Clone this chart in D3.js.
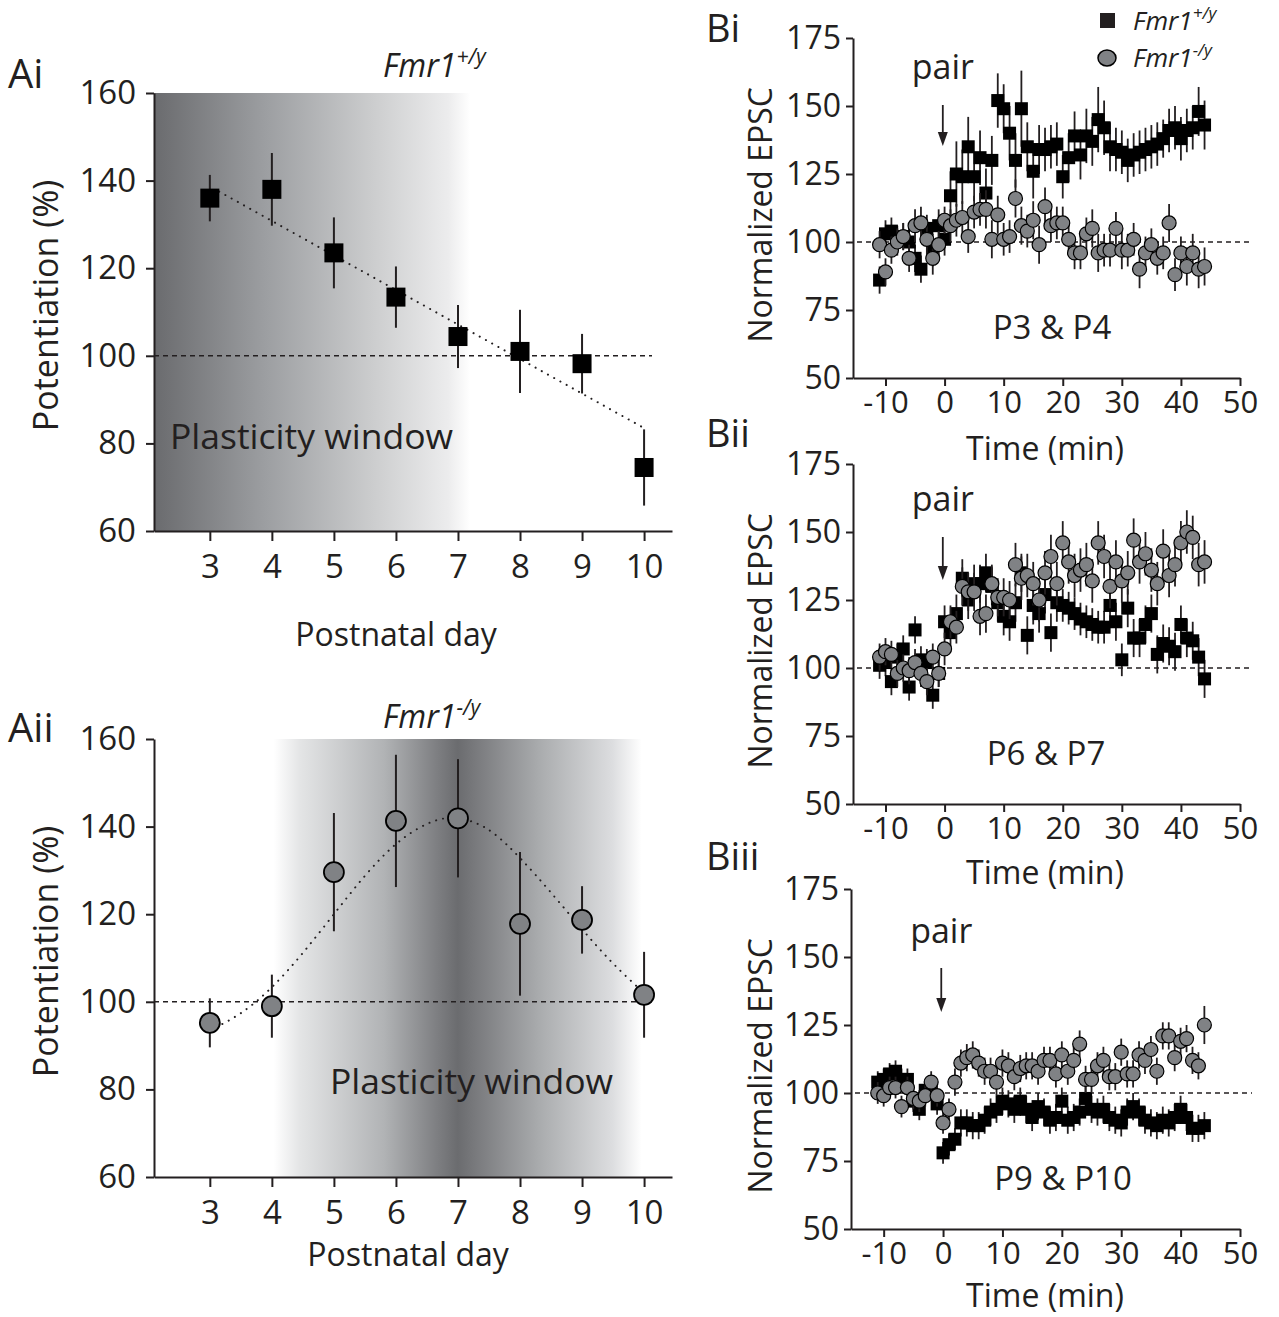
<!DOCTYPE html>
<html>
<head>
<meta charset="utf-8">
<script src="https://cdn.jsdelivr.net/npm/d3@7"></script>
<style>
  body { margin: 0; background: #fff; }
  svg text { font-family: "Open Sans", sans-serif; fill: #231f20; }
</style>
</head>
<body>
<svg id="fig" width="1279" height="1317"></svg>
<script>
// ---- data: panel A (postnatal day vs potentiation %) ----
var days = [3, 4, 5, 6, 7, 8, 9, 10];
var wtPotentiation = [136, 138, 123.5, 113.4, 104.4, 101, 98.2, 74.5];
var wtPotErr = [5.3, 8.3, 8.1, 7.0, 7.2, 9.5, 6.8, 8.7];
var wtFit = [[3.15, 137.5], [10, 83.5]];

var koPotentiation = [95.2, 99, 129.6, 141.3, 141.9, 117.8, 118.7, 101.6];
var koPotErr = [5.6, 7.2, 13.5, 15.1, 13.5, 16.4, 7.7, 9.8];
var koFit = [[3, 93.5], [3.5, 97], [4, 103], [4.5, 111], [5, 120], [5.5, 129], [6, 136.5],
             [6.5, 141], [6.9, 142.5], [7.3, 141], [7.6, 138.5], [8, 133], [8.5, 125],
             [9, 116.5], [9.5, 108.5], [10, 102]];

var potTicksY = [60, 80, 100, 120, 140, 160];

// ---- data: panel B (time course, one point per minute from -11 to 44) ----
var timeStart = -11;
var epscTicksY = [50, 75, 100, 125, 150, 175];
var timeTicks = [-10, 0, 10, 20, 30, 40, 50];

var biWt = [86, 103, 104, 101, 102, 100, 94, 90, 105, 97, 106, 101,
  117, 125, 124, 135, 124, 131, 118, 130, 152, 149, 140, 130, 149, 135, 126, 134, 134, 135, 136, 124,
  131, 139, 132, 139, 137, 145, 142, 135, 134, 133, 130, 132, 133, 134, 135, 136, 138, 141, 142, 138,
  141, 142, 148, 143];
var biWtErr = [5, 5, 5, 5, 5, 5, 5, 5, 5, 6, 6, 6,
  9, 12, 10, 11, 9, 10, 9, 9, 10, 9, 10, 10, 14, 9, 10, 9, 8, 8, 8, 8,
  9, 9, 9, 10, 9, 12, 10, 9, 8, 8, 8, 8, 8, 8, 8, 8, 7, 8, 8, 8,
  8, 8, 9, 9];
var biKo = [99, 89, 97, 100, 102, 94, 106, 107, 101, 94, 99, 108, 106, 108, 109, 102, 111, 112, 112, 101,
  110, 101, 102, 116, 106, 104, 108, 99, 113, 106, 107, 107, 101, 96, 96, 103, 105, 96, 97, 97,
  105, 97, 97, 101, 90, 96, 99, 94, 96, 107, 88, 96, 91, 96, 90, 91];
var biKoErr = [5, 5, 5, 5, 5, 5, 6, 6, 6, 6, 5, 5, 6, 6, 6, 6, 6, 6, 7, 7,
  7, 6, 6, 7, 7, 6, 7, 7, 7, 6, 6, 6, 6, 6, 6, 6, 7, 7, 6, 6,
  6, 7, 6, 6, 7, 6, 6, 6, 6, 7, 6, 6, 7, 7, 7, 7];

var biiWt = [101, 102, 95, 104, 107, 93, 114, 103, 102, 90, 98,
  117, 113, 120, 133, 125, 131, 131, 135, 130, 124, 119, 117, 124, 135, 112, 123, 120, 127, 113, 124,
  123, 122, 120, 118, 117, 116, 115, 115, 123, 117, 103, 122, 111, 111, 116, 120, 105, 109, 108, 106,
  116, 111, 110, 104, 96];
var biiWtErr = [5, 5, 5, 5, 5, 5, 5, 5, 5, 5, 5,
  6, 6, 7, 7, 7, 7, 7, 7, 7, 7, 7, 7, 7, 7, 7, 7, 7, 7, 7, 7,
  6, 6, 6, 6, 6, 6, 6, 6, 7, 7, 6, 7, 7, 7, 7, 7, 7, 7, 7, 7,
  7, 7, 7, 7, 7];
var biiKo = [104, 106, 105, 98, 100, 99, 102, 98, 95, 104, 98,
  107, 117, 115, 130, 128, 128, 119, 120, 131, 126, 126, 125, 138, 133, 134, 131, 125, 135, 141, 131,
  146, 139, 134, 136, 138, 132, 146, 141, 130, 139, 132, 135, 147, 139, 142, 136, 131, 143, 134, 138,
  146, 150, 148, 138, 139];
var biiKoErr = [5, 5, 5, 5, 5, 5, 5, 5, 5, 5, 5,
  6, 6, 6, 7, 7, 7, 7, 7, 7, 7, 7, 7, 8, 8, 8, 8, 8, 8, 8, 8,
  8, 8, 8, 8, 8, 8, 8, 8, 8, 8, 8, 8, 8, 8, 8, 8, 8, 8, 8, 8,
  8, 8, 8, 8, 8];

var biiiWt = [104, 105, 107, 108, 105, 105, 97, 94, 101, 102, 96,
  78, 81, 83, 89, 89, 88, 88, 90, 93, 94, 97, 96, 94, 97, 94, 91, 95, 93, 90, 91,
  97, 90, 91, 93, 98, 94, 93, 94, 91, 90, 89, 93, 95, 93, 90, 89, 88, 90, 89, 91,
  94, 91, 87, 87, 88];
var biiiWtErr = [4, 4, 4, 4, 4, 4, 4, 4, 4, 4, 4,
  4, 4, 4, 5, 5, 5, 5, 5, 5, 5, 5, 5, 5, 5, 5, 5, 5, 5, 5, 5,
  5, 5, 5, 5, 5, 5, 5, 5, 5, 5, 5, 5, 5, 5, 5, 5, 5, 5, 5, 5,
  5, 5, 5, 5, 5];
var biiiKo = [100, 99, 102, 102, 95, 102, 98, 97, 99, 104, 99,
  89, 94, 104, 111, 113, 114, 111, 108, 108, 104, 111, 110, 106, 109, 110, 110, 108, 112, 112, 107,
  114, 108, 112, 118, 105, 105, 110, 112, 106, 106, 115, 107, 107, 114, 112, 116, 108, 121, 121, 113,
  119, 120, 112, 110, 125];
var biiiKoErr = [4, 4, 4, 4, 4, 4, 4, 4, 4, 4, 4,
  4, 4, 5, 5, 5, 5, 5, 5, 5, 5, 5, 5, 5, 5, 5, 5, 5, 5, 5, 5,
  5, 5, 5, 5, 5, 5, 5, 5, 5, 5, 5, 5, 5, 5, 5, 5, 5, 5, 5, 5,
  5, 5, 5, 5, 7];

var INK = "#231f20";
var GREY = "#808285";
var svg = d3.select( "#fig" );
var defs = svg.append( "defs" );

// gradients for the plasticity windows
var gAi = defs.append( "linearGradient" ).attr( "id", "gradAi" );
[ [0, "#6a6b6e"], [0.35, "#9c9ea1"], [0.7, "#cdcecf"], [0.93, "#ececed"], [1, "#ffffff"] ]
  .forEach( function( s ){ gAi.append( "stop" ).attr( "offset", s[0] ).attr( "stop-color", s[1] ); } );

var gAii = defs.append( "linearGradient" ).attr( "id", "gradAii" );
[ [0, "#ffffff"], [0.07, "#e4e5e6"], [0.3, "#b1b3b5"], [0.44, "#7f8083"], [0.5, "#6b6c6f"],
  [0.56, "#7c7d80"], [0.72, "#a9abad"], [0.92, "#dcdddf"], [1, "#ffffff"] ]
  .forEach( function( s ){ gAii.append( "stop" ).attr( "offset", s[0] ).attr( "stop-color", s[1] ); } );

function styleAxis( g, fontSize ){
  g.select( ".domain" ).attr( "stroke", INK ).attr( "stroke-width", 2 );
  g.selectAll( ".tick line" ).attr( "stroke", INK ).attr( "stroke-width", 2 );
  g.selectAll( ".tick text" ).style( "font-size", fontSize + "px" ).attr( "fill", INK );
}

function genotype( x, y, sup, size, anchor ){
  var t = svg.append( "text" ).attr( "x", x ).attr( "y", y )
    .attr( "text-anchor", anchor || "start" )
    .style( "font-size", size + "px" ).style( "font-style", "italic" );
  t.append( "tspan" ).text( "Fmr1" );
  t.append( "tspan" ).attr( "dy", -size * 0.42 ).style( "font-size", ( size * 0.66 ) + "px" ).text( sup );
}

// ---------- panel A ----------
function drawPanelA( opt ){
  var x = d3.scaleLinear().domain( [2.1, 10.45] ).range( [154, 672] );
  var y = d3.scaleLinear().domain( [60, 160] ).range( [opt.bottom, opt.bottom - 438] );

  svg.append( "rect" )
    .attr( "x", x( opt.win[0] ) ).attr( "y", y( 160 ) )
    .attr( "width", x( opt.win[1] ) - x( opt.win[0] ) )
    .attr( "height", y( 60 ) - y( 160 ) )
    .attr( "fill", "url(#" + opt.grad + ")" );

  var ax = svg.append( "g" ).attr( "transform", "translate(0," + y( 60 ) + ")" )
    .call( d3.axisBottom( x ).tickValues( days ).tickSize( 10 ).tickPadding( 14 ).tickSizeOuter( 0 ) );
  styleAxis( ax, 33 );
  var ay = svg.append( "g" ).attr( "transform", "translate(" + x.range()[0] + ",0)" )
    .call( d3.axisLeft( y ).tickValues( potTicksY ).tickSize( 8 ).tickPadding( 10 ).tickSizeOuter( 0 ) );
  styleAxis( ay, 33 );

  svg.append( "line" )
    .attr( "x1", x.range()[0] ).attr( "x2", 652 )
    .attr( "y1", y( 100 ) ).attr( "y2", y( 100 ) )
    .attr( "stroke", INK ).attr( "stroke-width", 1.6 ).attr( "stroke-dasharray", "5,4" );

  svg.append( "path" )
    .datum( opt.fit )
    .attr( "d", d3.line().curve( d3.curveBasis ).x( function( d ){ return x( d[0] ); } ).y( function( d ){ return y( d[1] ); } ) )
    .attr( "fill", "none" ).attr( "stroke", INK ).attr( "stroke-width", 2 )
    .attr( "stroke-dasharray", "0.1,7" ).attr( "stroke-linecap", "round" );

  svg.append( "text" ).attr( "x", opt.winLabel[0] ).attr( "y", opt.winLabel[1] )
    .style( "font-size", "35.5px" ).text( "Plasticity window" );

  days.forEach( function( d, i ){
    svg.append( "line" )
      .attr( "x1", x( d ) ).attr( "x2", x( d ) )
      .attr( "y1", y( opt.vals[i] - opt.err[i] ) ).attr( "y2", y( opt.vals[i] + opt.err[i] ) )
      .attr( "stroke", INK ).attr( "stroke-width", 2 );
  } );

  if( opt.square ){
    svg.selectAll( null ).data( days ).enter().append( "rect" )
      .attr( "x", function( d ){ return x( d ) - 9.5; } )
      .attr( "y", function( d, i ){ return y( opt.vals[i] ) - 9.5; } )
      .attr( "width", 19 ).attr( "height", 19 ).attr( "fill", "#000" );
  } else {
    svg.selectAll( null ).data( days ).enter().append( "circle" )
      .attr( "cx", function( d ){ return x( d ); } )
      .attr( "cy", function( d, i ){ return y( opt.vals[i] ); } )
      .attr( "r", 10 ).attr( "fill", GREY ).attr( "stroke", "#000" ).attr( "stroke-width", 1.8 );
  }

  svg.append( "text" ).attr( "x", opt.dayX ).attr( "y", opt.dayY )
    .attr( "text-anchor", "middle" ).style( "font-size", "32px" ).text( "Postnatal day" );
  svg.append( "text" )
    .attr( "transform", "translate(58," + ( y( 111.5 ) ) + ") rotate(-90)" )
    .attr( "text-anchor", "middle" ).style( "font-size", "34px" ).text( "Potentiation (%)" );

  svg.append( "text" ).attr( "x", 8 ).attr( "y", opt.panelY )
    .style( "font-size", "40px" ).text( opt.panel );
  genotype( 383, opt.genoY, opt.sup, 32 );
}

drawPanelA( { bottom: 531, grad: "gradAi", win: [2.1, 7.2], winLabel: [170, 449],
  vals: wtPotentiation, err: wtPotErr, fit: wtFit, square: true, dayX: 396, dayY: 646,
  panel: "Ai", panelY: 88, genoY: 77, sup: "+/y" } );
drawPanelA( { bottom: 1177, grad: "gradAii", win: [4.03, 9.96], winLabel: [330, 1094],
  vals: koPotentiation, err: koPotErr, fit: koFit, square: false, dayX: 408, dayY: 1266,
  panel: "Aii", panelY: 742, genoY: 728, sup: "-/y" } );

// ---------- panel B ----------
function drawPanelB( opt ){
  var x = d3.scaleLinear().domain( [-15.5, 50] ).range( [opt.left, 1240] );
  var y = d3.scaleLinear().domain( [50, 175] ).range( [opt.bottom, opt.bottom - 340] );

  var ax = svg.append( "g" ).attr( "transform", "translate(0," + opt.bottom + ")" )
    .call( d3.axisBottom( x ).tickValues( timeTicks ).tickSize( 8 ).tickPadding( 5 ).tickSizeOuter( 0 )
      .tickFormat( function( d ){ return String( d ); } ) );
  styleAxis( ax, 31 );
  var ay = svg.append( "g" ).attr( "transform", "translate(" + opt.left + ",0)" )
    .call( d3.axisLeft( y ).tickValues( epscTicksY ).tickSize( 7 ).tickPadding( 5 ).tickSizeOuter( 0 ) );
  styleAxis( ay, 32 );

  svg.append( "line" )
    .attr( "x1", opt.left + 4 ).attr( "x2", 1252 )
    .attr( "y1", y( 100 ) ).attr( "y2", y( 100 ) )
    .attr( "stroke", INK ).attr( "stroke-width", 1.5 ).attr( "stroke-dasharray", "5,4" );

  function series( vals, errs, square ){
    vals.forEach( function( v, i ){
      var t = timeStart + i;
      svg.append( "line" )
        .attr( "x1", x( t ) ).attr( "x2", x( t ) )
        .attr( "y1", y( v - errs[i] ) ).attr( "y2", y( v + errs[i] ) )
        .attr( "stroke", INK ).attr( "stroke-width", 1.8 );
    } );
    vals.forEach( function( v, i ){
      var t = timeStart + i;
      if( square ){
        svg.append( "rect" )
          .attr( "x", x( t ) - 6.5 ).attr( "y", y( v ) - 6.5 )
          .attr( "width", 13 ).attr( "height", 13 ).attr( "fill", "#000" );
      } else {
        svg.append( "circle" )
          .attr( "cx", x( t ) ).attr( "cy", y( v ) ).attr( "r", 7 )
          .attr( "fill", GREY ).attr( "stroke", "#000" ).attr( "stroke-width", 1.2 );
      }
    } );
  }
  series( opt.wt, opt.wtErr, true );
  series( opt.ko, opt.koErr, false );

  // pairing arrow
  var ax0 = x( -0.3 );
  svg.append( "line" ).attr( "x1", ax0 ).attr( "x2", ax0 )
    .attr( "y1", opt.arrow[0] ).attr( "y2", opt.arrow[1] - 10 )
    .attr( "stroke", INK ).attr( "stroke-width", 1.8 );
  svg.append( "path" )
    .attr( "d", "M" + ( ax0 - 5 ) + "," + ( opt.arrow[1] - 14 ) + "L" + ( ax0 + 5 ) + "," + ( opt.arrow[1] - 14 ) + "L" + ax0 + "," + opt.arrow[1] + "Z" )
    .attr( "fill", INK );
  svg.append( "text" ).attr( "x", ax0 ).attr( "y", opt.pairY )
    .attr( "text-anchor", "middle" ).style( "font-size", "34px" ).text( "pair" );

  svg.append( "text" ).attr( "x", opt.ageX ).attr( "y", opt.bottom - 39 )
    .attr( "text-anchor", "middle" ).style( "font-size", "33px" ).text( opt.age );

  svg.append( "text" ).attr( "x", 1045 ).attr( "y", opt.timeY )
    .attr( "text-anchor", "middle" ).style( "font-size", "32px" ).text( "Time (min)" );
  svg.append( "text" )
    .attr( "transform", "translate(772," + ( y( 110 ) ) + ") rotate(-90)" )
    .attr( "text-anchor", "middle" ).style( "font-size", "32px" ).text( "Normalized EPSC" );

  svg.append( "text" ).attr( "x", 706 ).attr( "y", opt.panelY )
    .style( "font-size", "38px" ).text( opt.panel );
}

drawPanelB( { left: 853, bottom: 378, wt: biWt, wtErr: biWtErr, ko: biKo, koErr: biKoErr, timeY: 460,
  arrow: [105, 146], pairY: 79, age: "P3 & P4", ageX: 1052, panel: "Bi", panelY: 42 } );
drawPanelB( { left: 853, bottom: 804, wt: biiWt, wtErr: biiWtErr, ko: biiKo, koErr: biiKoErr, timeY: 884,
  arrow: [537, 580], pairY: 511, age: "P6 & P7", ageX: 1046, panel: "Bii", panelY: 447 } );
drawPanelB( { left: 851, bottom: 1229, wt: biiiWt, wtErr: biiiWtErr, ko: biiiKo, koErr: biiiKoErr, timeY: 1307,
  arrow: [968, 1012], pairY: 943, age: "P9 & P10", ageX: 1063, panel: "Biii", panelY: 870 } );

// legend
svg.append( "rect" ).attr( "x", 1100 ).attr( "y", 13 ).attr( "width", 15 ).attr( "height", 15 ).attr( "fill", INK );
genotype( 1133, 30, "+/y", 26 );
svg.append( "ellipse" ).attr( "cx", 1107 ).attr( "cy", 58 ).attr( "rx", 9 ).attr( "ry", 8 )
  .attr( "fill", GREY ).attr( "stroke", "#000" ).attr( "stroke-width", 1.5 );
genotype( 1133, 67, "-/y", 26 );
</script>
</body>
</html>
